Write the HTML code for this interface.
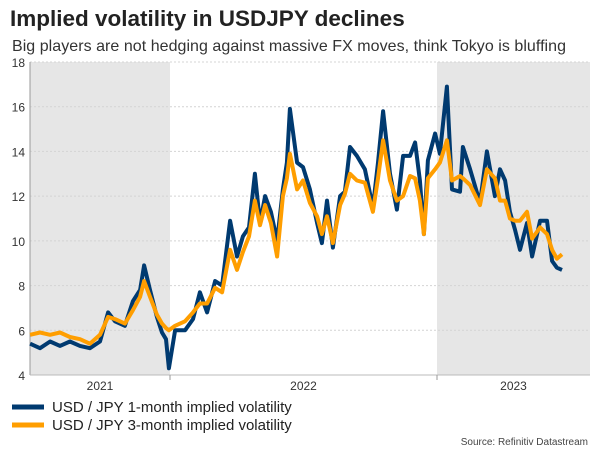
<!DOCTYPE html>
<html><head><meta charset="utf-8"><style>
body{margin:0;background:#fff;width:600px;height:450px;overflow:hidden;font-family:"Liberation Sans",sans-serif}
</style></head><body>
<svg width="600" height="450" style="position:absolute;left:0;top:0">
<text x="10" y="26" font-size="22.5" font-weight="bold" fill="#222">Implied volatility in USDJPY declines</text>
<text x="12" y="51" font-size="16" fill="#333" textLength="554">Big players are not hedging against massive FX moves, think Tokyo is bluffing</text>
<g id="plot"></g>
<line x1="12" y1="407" x2="44" y2="407" stroke="#003a70" stroke-width="5"/>
<text x="52" y="412" font-size="15" fill="#222">USD / JPY 1-month implied volatility</text>
<line x1="12" y1="425" x2="44" y2="425" stroke="#ff9e00" stroke-width="5"/>
<text x="52" y="430" font-size="15" fill="#222">USD / JPY 3-month implied volatility</text>
<text x="588" y="445" font-size="10" fill="#444" text-anchor="end">Source: Refinitiv Datastream</text>
</svg>
<script>
const dates=[2021.476,2021.513,2021.551,2021.588,2021.625,2021.663,2021.700,2021.738,2021.768,2021.794,2021.831,2021.861,2021.888,2021.903,2021.925,2021.951,2021.970,2021.985,2021.996,2022.019,2022.056,2022.086,2022.112,2022.139,2022.169,2022.195,2022.225,2022.251,2022.273,2022.296,2022.318,2022.337,2022.356,2022.378,2022.401,2022.423,2022.438,2022.449,2022.476,2022.498,2022.524,2022.551,2022.569,2022.588,2022.610,2022.637,2022.655,2022.674,2022.700,2022.730,2022.760,2022.779,2022.798,2022.824,2022.850,2022.873,2022.899,2022.918,2022.936,2022.951,2022.966,2022.993,2023.011,2023.037,2023.056,2023.086,2023.097,2023.124,2023.161,2023.187,2023.217,2023.236,2023.255,2023.273,2023.292,2023.311,2023.337,2023.356,2023.386,2023.412,2023.431,2023.449,2023.468];
const vol1m=[5.4,5.2,5.5,5.3,5.5,5.3,5.2,5.5,6.8,6.4,6.2,7.3,7.8,8.9,7.8,6.6,5.9,5.6,4.3,6.0,6.0,6.5,7.7,6.8,8.2,8.0,10.9,9.3,10.2,10.6,13.0,10.8,12.0,11.3,10.0,12.3,13.5,15.9,13.5,13.3,12.3,10.8,9.9,11.8,9.7,12.0,12.2,14.2,13.8,13.2,11.5,13.5,15.8,13.0,11.4,13.8,13.8,14.4,12.7,10.3,13.6,14.8,13.9,16.9,12.3,12.2,14.2,13.2,11.7,14.0,12.0,13.2,12.7,11.3,10.5,9.6,10.8,9.3,10.9,10.9,9.1,8.8,8.7];
const vol3m=[5.8,5.9,5.8,5.9,5.7,5.6,5.4,5.8,6.6,6.5,6.3,6.9,7.5,8.2,7.5,6.7,6.3,6.1,6.0,6.2,6.4,6.8,7.2,7.2,7.9,7.7,9.6,8.7,9.5,10.2,11.8,10.7,11.6,10.8,9.3,12.0,12.8,13.9,12.3,12.7,11.7,11.1,10.3,11.1,9.9,11.6,12.1,13.0,12.7,12.6,11.3,12.8,14.5,12.7,11.8,12.0,12.9,12.8,11.8,10.3,12.8,13.2,13.5,14.5,12.7,12.9,12.8,12.5,11.6,13.2,12.8,11.8,11.8,11.0,10.9,10.9,11.3,10.1,10.6,10.3,9.6,9.2,9.4];
const yTicks=[4,6,8,10,12,14,16,18];
const years=["2021","2022","2023"];
const yearStarts=[2021,2022,2023];
const NS="http://www.w3.org/2000/svg";
const L=30,R=590,T=62,B=375;
const xs=t=>170+(t-2022)*267;
const ys=v=>B-(v-4)/(18-4)*(B-T);
const g=document.getElementById('plot');
function mk(tag,attrs){const e=document.createElementNS(NS,tag);for(const k in attrs)e.setAttribute(k,attrs[k]);g.appendChild(e);return e;}
let s=mk('rect',{x:L,y:T,width:xs(2022)-L,height:B-T,fill:'#e6e6e6'});


s=mk('rect',{x:xs(2023),y:T,width:R-xs(2023),height:B-T,fill:'#e6e6e6'});


yTicks.forEach(v=>{
 const ln=mk('line',{x1:L,x2:R,y1:ys(v),y2:ys(v),stroke:'#d4d4d4','stroke-dasharray':'2,2','stroke-width':1});
 
 
 const t=mk('text',{x:25,y:ys(v)+5,'font-size':12,fill:'#333','text-anchor':'end'});t.textContent=v;
 
 
});
let ax=mk('line',{x1:L,x2:L,y1:T,y2:B,stroke:'#999','stroke-width':1});


ax=mk('line',{x1:L,x2:R,y1:B,y2:B,stroke:'#bbb','stroke-width':1});


yearStarts.forEach((y,i)=>{
 const x0=Math.max(L,xs(y)),x1=Math.min(R,xs(y+1));
 if(xs(y)>L){const tk=mk('line',{x1:xs(y),x2:xs(y),y1:B,y2:B+5,stroke:'#999'});
 
 }
 const t=mk('text',{x:(x0+x1)/2,y:B+15,'font-size':12,fill:'#333','text-anchor':'middle'});t.textContent=years[i];
 
 
});
function line(vals,color,name){
 const d=vals.map((v,i)=>(i?'L':'M')+xs(dates[i]).toFixed(1)+','+ys(v).toFixed(1)).join('');
 const p=mk('path',{d:d,fill:'none',stroke:color,'stroke-width':4,'stroke-linejoin':'round'});
 
 
}
line(vol1m,'#003a70','series-1m-vol');
line(vol3m,'#ff9e00','series-3m-vol');
</script>
</body></html>
